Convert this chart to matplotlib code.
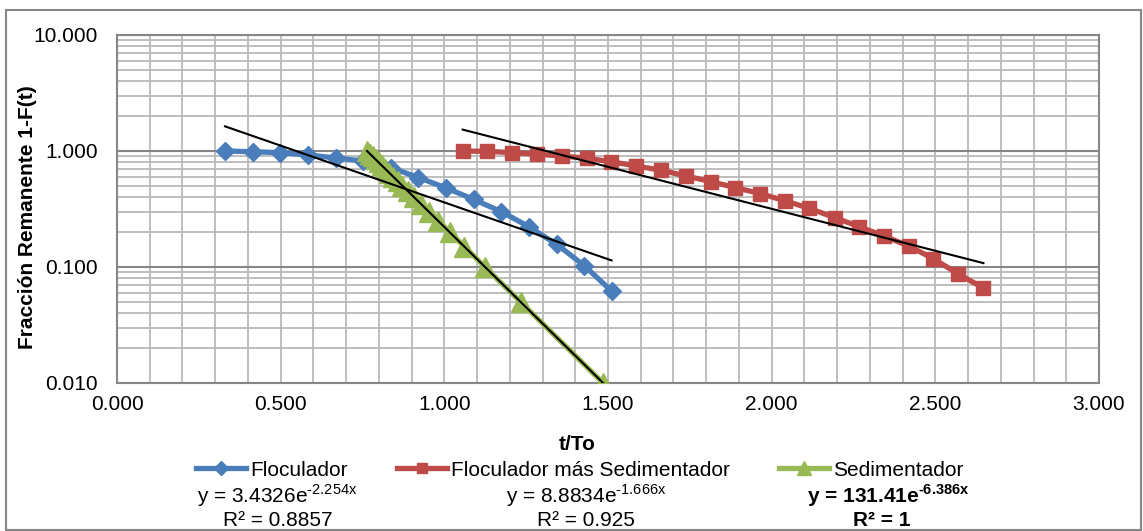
import matplotlib
matplotlib.use("Agg")
import numpy as np
import matplotlib.pyplot as plt
from matplotlib.lines import Line2D
from matplotlib.patches import Rectangle
from matplotlib.ticker import MultipleLocator, LogLocator, FormatStrFormatter, NullFormatter

# ── data ─────────────────────────────────────────────────────────────────────
floc_x = [0.330, 0.414, 0.499, 0.583, 0.668, 0.752, 0.836, 0.921, 1.005, 1.090,
          1.174, 1.258, 1.343, 1.427, 1.511]
floc_y = [1.000, 0.986, 0.967, 0.924, 0.871, 0.820, 0.720, 0.590, 0.481, 0.382,
          0.300, 0.223, 0.157, 0.103, 0.062]

flsed_x = [1.056, 1.131, 1.206, 1.282, 1.359, 1.435, 1.509, 1.586, 1.661, 1.738,
           1.814, 1.888, 1.965, 2.041, 2.115, 2.192, 2.267, 2.343, 2.420, 2.494,
           2.570, 2.647]
flsed_y = [1.000, 0.994, 0.967, 0.937, 0.906, 0.866, 0.809, 0.743, 0.683, 0.610,
           0.545, 0.484, 0.430, 0.372, 0.320, 0.267, 0.223, 0.185, 0.151, 0.118,
           0.087, 0.066]

sed_x = [0.764, 0.772, 0.781, 0.790, 0.799, 0.809, 0.820, 0.831, 0.844, 0.857,
         0.872, 0.889, 0.907, 0.928, 0.952, 0.981, 1.016, 1.061, 1.124, 1.233, 1.485]
sed_y = [1.00, 0.95, 0.90, 0.85, 0.80, 0.75, 0.70, 0.65, 0.60, 0.55,
         0.50, 0.45, 0.40, 0.35, 0.30, 0.25, 0.20, 0.15, 0.10, 0.05, 0.01]

# exponential trendlines y = a * exp(b x)
fit_a = [3.4326, 8.8834, 131.41]
fit_b = [-2.254, -1.666, -6.386]
fit_r2 = ["0.8857", "0.925", "1"]

names = ["Floculador", "Floculador más Sedimentador", "Sedimentador"]
x_ticks = [0.0, 0.5, 1.0, 1.5, 2.0, 2.5, 3.0]

# ── style ────────────────────────────────────────────────────────────────────
plt.rcParams["font.family"] = ["Liberation Sans", "DejaVu Sans"]
plt.rcParams["mathtext.fontset"] = "custom"
plt.rcParams["mathtext.rm"] = "Liberation Sans"
plt.rcParams["mathtext.bf"] = "Liberation Sans:bold"
FS = 15
colors  = ["#4A7EBB", "#BE4B48", "#98B954"]
markers = ["D", "s", "^"]
msizes  = [9.5, 9.5, 15]
grid_lt = "#B9B9B9"
grid_dk = "#868686"

W, H = 1143, 531
fig = plt.figure(figsize=(W / 100, H / 100), dpi=100)
ax = fig.add_axes([117 / W, 1 - 383 / H, (1099 - 117) / W, (383 - 35) / H])

# ── series ───────────────────────────────────────────────────────────────────
series = [(floc_x, floc_y), (flsed_x, flsed_y), (sed_x, sed_y)]
for (xs, ys), c, m, ms in zip(series, colors, markers, msizes):
    ax.plot(xs, ys, color=c, lw=3.8, marker=m, ms=ms, mec=c, mfc=c, zorder=3)

for (xs, ys), a, b in zip(series, fit_a, fit_b):
    xt = np.linspace(min(xs), max(xs), 50)
    ax.plot(xt, a * np.exp(b * xt), color="black", lw=1.5, zorder=4)

# ── axes ─────────────────────────────────────────────────────────────────────
ax.set_yscale("log")
ax.set_xlim(0, 3)
ax.set_ylim(0.01, 10)
ax.set_xticks(x_ticks)
ax.xaxis.set_minor_locator(MultipleLocator(0.1))
ax.xaxis.set_major_formatter(FormatStrFormatter("%.3f"))
ax.yaxis.set_major_locator(LogLocator(base=10))
ax.yaxis.set_minor_locator(LogLocator(base=10, subs=np.arange(2, 10)))
ax.yaxis.set_major_formatter(FormatStrFormatter("%.3f"))
ax.yaxis.set_minor_formatter(NullFormatter())
ax.tick_params(which="both", length=0, labelsize=FS, colors="black")
ax.tick_params(axis="x", pad=9)
ax.tick_params(axis="y", pad=14)

ax.grid(True, axis="x", which="both", color=grid_lt, lw=1.3)
ax.grid(True, axis="y", which="minor", color=grid_lt, lw=1.3)
ax.grid(True, axis="y", which="major", color=grid_dk, lw=1.5)
ax.set_axisbelow(True)
for sp in ax.spines.values():
    sp.set_color(grid_dk)
    sp.set_linewidth(1.5)

fig.text(28 / W, 1 - 217 / H, "Fracción Remanente 1-F(t)", rotation=90,
         ha="center", va="center", fontsize=FS, fontweight="bold")
fig.text(577 / W, 1 - 444 / H, "t/To", ha="center", va="center",
         fontsize=FS, fontweight="bold")

# ── legend + trendline equations ─────────────────────────────────────────────
handles = [Line2D([0], [0], color=c, lw=3.8, marker=m, ms=ms * 0.7, mec=c, mfc=c)
           for c, m, ms in zip(colors, markers, msizes)]
fig.legend(handles, names, loc="center left", bbox_to_anchor=(196 / W, 1 - 470 / H),
           ncol=3, frameon=False, fontsize=FS, handlelength=2.4, handletextpad=0.2,
           columnspacing=2.35, borderpad=0, borderaxespad=0)

eq_cx = [277, 586, 888]
r2_cx = [278, 586, 882]
for i in range(3):
    bold = i == 2
    coef = f"{fit_a[i]:g}"
    expo = f"{fit_b[i]:.3f}".replace("-", "\u2010") + "x"
    if bold:
        eq = "y = " + coef + r"e$^{\mathbf{" + expo + "}}$"
    else:
        eq = "y = " + coef + r"e$^{\mathregular{" + expo + "}}$"
    fig.text(eq_cx[i] / W, 1 - 496 / H, eq, ha="center", va="center", fontsize=FS,
             fontweight="bold" if bold else "normal")
    fig.text(r2_cx[i] / W, 1 - 520 / H, "R² = " + fit_r2[i], ha="center", va="center",
             fontsize=FS, fontweight="bold" if bold else "normal")

# chart-area border
fig.patches.append(Rectangle((6 / W, 1 / H), (1141 - 6) / W, (530 - 10) / H,
                             transform=fig.transFigure, fill=False,
                             edgecolor=grid_dk, lw=1.5))

fig.savefig("out.png", dpi=100)
